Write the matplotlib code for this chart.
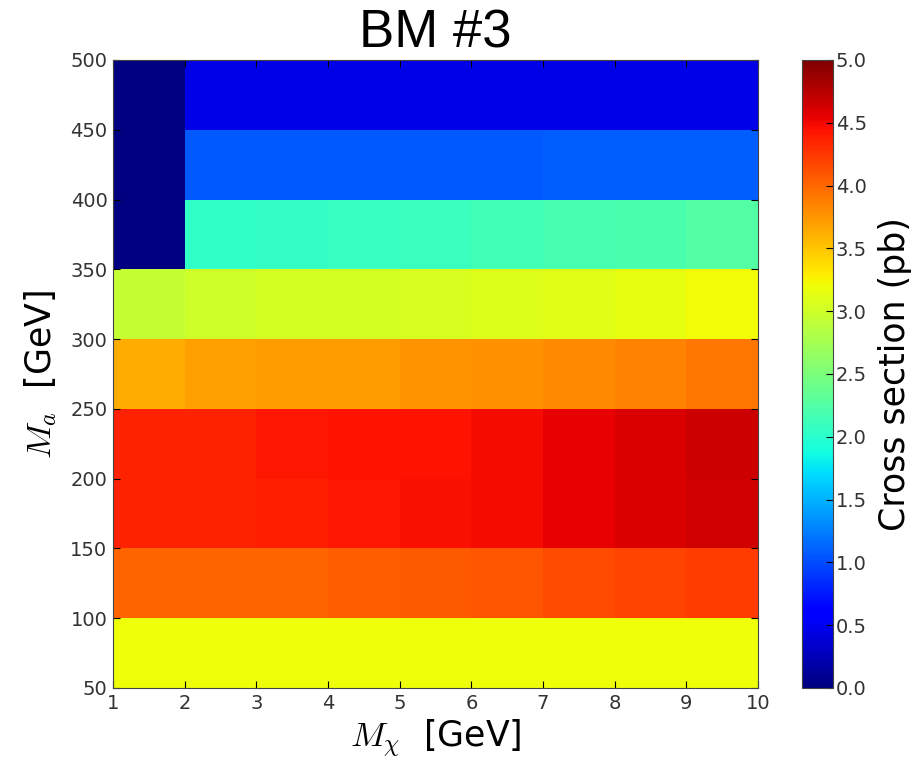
import numpy as np
import matplotlib
matplotlib.use("Agg")
import matplotlib.pyplot as plt

# grid edges
m_chi_edges = [1, 2, 3, 4, 5, 6, 7, 8, 9, 10]
m_a_edges = [50, 100, 150, 200, 250, 300, 350, 400, 450, 500]

# cross sections (pb), one list per M_a row, bottom to top
row_50_100 = [3.20, 3.20, 3.20, 3.20, 3.20, 3.20, 3.20, 3.20, 3.20]
row_100_150 = [4.02, 4.02, 4.02, 4.05, 4.07, 4.10, 4.15, 4.18, 4.23]
row_150_200 = [4.37, 4.37, 4.39, 4.42, 4.46, 4.48, 4.54, 4.60, 4.63]
row_200_250 = [4.37, 4.37, 4.42, 4.45, 4.45, 4.49, 4.54, 4.60, 4.65]
row_250_300 = [3.65, 3.70, 3.72, 3.73, 3.76, 3.78, 3.81, 3.86, 3.91]
row_300_350 = [2.94, 2.99, 3.03, 3.04, 3.06, 3.09, 3.11, 3.15, 3.21]
row_350_400 = [0.00, 2.05, 2.07, 2.08, 2.10, 2.14, 2.17, 2.20, 2.26]
row_400_450 = [0.00, 1.06, 1.06, 1.07, 1.07, 1.07, 1.08, 1.08, 1.08]
row_450_500 = [0.00, 0.45, 0.45, 0.45, 0.45, 0.45, 0.45, 0.45, 0.45]

cbar_ticks = [0.0, 0.5, 1.0, 1.5, 2.0, 2.5, 3.0, 3.5, 4.0, 4.5, 5.0]

xsec = np.array([row_50_100, row_100_150, row_150_200, row_200_250, row_250_300,
                 row_300_350, row_350_400, row_400_450, row_450_500])

plt.rcParams["mathtext.fontset"] = "cm"
tick_color = "#333333"

fig = plt.figure(figsize=(9.13, 7.65), dpi=100)
ax = fig.add_axes([0.1238, 0.1007, 0.7065, 0.8209])
cax = fig.add_axes([0.8784, 0.1007, 0.034, 0.8209])

mesh = ax.pcolormesh(m_chi_edges, m_a_edges, xsec, cmap="jet", vmin=0, vmax=5)
ax.set_xlim(1, 10)
ax.set_ylim(50, 500)
ax.set_xticks(m_chi_edges)
ax.set_yticks(m_a_edges)
ax.tick_params(direction="in", top=True, right=True, length=5, labelsize=14,
               labelcolor=tick_color, pad=4)
for s in ax.spines.values():
    s.set_color("#444444")

ax.set_xlabel(r"$M_\chi$  [GeV]", fontsize=25, labelpad=4)
ax.set_ylabel(r"$M_a$  [GeV]", fontsize=25, labelpad=8)
ax.set_title("BM #3", fontsize=38, family="Liberation Sans", pad=9)

cb = fig.colorbar(mesh, cax=cax, ticks=cbar_ticks)
cb.ax.tick_params(direction="in", length=5, labelsize=14, labelcolor=tick_color, pad=2)
cb.set_label("Cross section (pb)", fontsize=25, labelpad=8)
cb.outline.set_edgecolor("#444444")

fig.savefig("out.png", dpi=100)
